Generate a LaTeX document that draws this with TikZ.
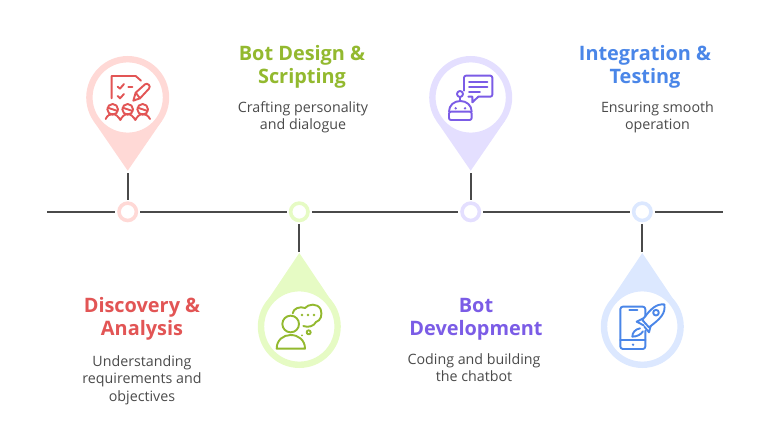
\documentclass[tikz,border=0pt]{standalone}
\usepackage{fontspec}
\setmainfont{Open Sans}
\definecolor{redT}{HTML}{E25555}\definecolor{redP}{HTML}{FFD9D6}
\definecolor{grnT}{HTML}{93B92F}\definecolor{grnP}{HTML}{E6FBC4}
\definecolor{purT}{HTML}{7B5CE6}\definecolor{purP}{HTML}{E4DFFF}
\definecolor{bluT}{HTML}{4A86E8}\definecolor{bluP}{HTML}{DCE8FF}
\definecolor{ink}{HTML}{4A4A4A}
\tikzset{
 ring/.style={circle,draw=#1,fill=white,line width=3.6pt,minimum size=17.4pt,inner sep=0pt,outer sep=0pt},
 pinbody/.style={circle,draw=#1,fill=white,line width=6.4pt,minimum size=76.6pt,inner sep=0pt,outer sep=0pt},
 link/.style={draw=ink,line width=1.9pt},
 title/.style={text=#1,font=\fontsize{19.9}{23}\selectfont\bfseries,align=center},
 desc/.style={text=ink,font=\fontsize{14.25}{17.3}\selectfont,align=center},
 iconz/.style={x=0.33333pt,y=-0.33333pt,line width=1.9pt,line cap=round,line join=round},
}
\begin{document}
\begin{tikzpicture}[x=1pt,y=-1pt]
\useasboundingbox (0,0) rectangle (768,444);
% pin tips and tapered sides
\coordinate (t1) at (127.7,170.7);
\coordinate (t2) at (299.3,253);
\coordinate (t3) at (470.7,170.7);
\coordinate (t4) at (642.3,253);
\fill[redP] (t1) -- (93.7,121.2) -- (161.7,121.2) -- cycle;
\fill[grnP] (t2) -- (265.3,303.7) -- (333.3,303.7) -- cycle;
\fill[purP] (t3) -- (436.7,121.2) -- (504.7,121.2) -- cycle;
\fill[bluP] (t4) -- (608.3,303.7) -- (676.3,303.7) -- cycle;
\node[pinbody=redP] (p1) at (127.7,97.5) {};
\node[pinbody=grnP] (p2) at (299.3,326.5) {};
\node[pinbody=purP] (p3) at (470.7,97.5) {};
\node[pinbody=bluP] (p4) at (642.3,326.5) {};
% timeline
\node[ring=redP] (c1) at (127.7,211.8) {};
\node[ring=grnP] (c2) at (299.3,211.8) {};
\node[ring=purP] (c3) at (470.7,211.8) {};
\node[ring=bluP] (c4) at (642.3,211.8) {};
\coordinate (s) at (47,211.8);
\coordinate (e) at (723,211.8);
\draw[link,shorten >=12.5pt] (s) -- (c1.center);
\draw[link,shorten <=12.5pt,shorten >=12.5pt] (c1.center) -- (c2.center);
\draw[link,shorten <=12.5pt,shorten >=12.5pt] (c2.center) -- (c3.center);
\draw[link,shorten <=12.5pt,shorten >=12.5pt] (c3.center) -- (c4.center);
\draw[link,shorten <=12.5pt] (c4.center) -- (e);
\draw[link,shorten <=12pt,shorten >=2.5pt] (c1.center) -- (t1);
\draw[link,shorten <=12pt,shorten >=1.5pt] (c2.center) -- (t2);
\draw[link,shorten <=12pt,shorten >=2.5pt] (c3.center) -- (t3);
\draw[link,shorten <=12pt,shorten >=1.5pt] (c4.center) -- (t4);
% icon 1
\begin{scope}[shift={(70,40)},iconz,draw=redT]
\draw (125,175) -- (125,108) -- (197,108) -- (213,122);
\draw (143,140) -- (150,146) -- (162,132);
\draw (175,142) -- (187,142);
\draw (143,168) -- (150,175) -- (162,162);
\draw (190,182) -- (197,158) -- (225,133) .. controls (232,127) and (244,138) .. (237,146) -- (210,175) -- cycle;
\draw (197,158) -- (210,175);
\foreach \cx in {128,173,218}{
 \draw (\cx,208) circle[radius=16];
 \draw (\cx-15,203) -- (\cx+15,213);
}
\draw (107,237) .. controls (112,226) and (120,222) .. (128,222) .. controls (137,222) and (145,230) .. (151,240) .. controls (156,230) and (164,222) .. (173,222) .. controls (182,222) and (190,230) .. (196,240) .. controls (201,230) and (209,222) .. (218,222) .. controls (226,222) and (234,226) .. (240,237);
\end{scope}
% icon 2
\begin{scope}[shift={(240,200)},iconz,draw=grnT,fill=grnT]
\draw[fill=none] (152,372) circle[radius=25];
\draw[fill=none] (110,446) .. controls (110,420) and (130,405) .. (152,405) .. controls (175,405) and (195,420) .. (195,446) -- cycle;
\draw[fill=none] (158,340) .. controls (160,325) and (180,318) .. (195,324) .. controls (205,312) and (232,308) .. (242,328) .. controls (248,345) and (242,362) .. (228,366) .. controls (222,378) and (205,384) .. (190,378);
\fill (186,345) circle[radius=4.2];
\fill (204,345) circle[radius=4.2];
\fill (222,345) circle[radius=4.2];
\draw[fill=none] (206,397) circle[radius=6];
\fill (186,406) circle[radius=3];
\end{scope}
% icon 3
\begin{scope}[shift={(415,40)},iconz,draw=purT,fill=purT]
\draw[fill=none,rounded corners=2pt] (147,152) -- (147,107) -- (232,107) -- (232,170) -- (190,170);
\draw[fill=none] (190,170) -- (172,187) -- (172,170) -- (160,170);
\draw (162,125) -- (217,125);
\draw (162,140) -- (217,140);
\draw (162,155) -- (195,155);
\draw[fill=none] (135,162) circle[radius=9];
\draw (135,171) -- (135,183);
\draw[fill=none] (102,215) .. controls (102,196) and (117,183) .. (136,183) .. controls (155,183) and (170,196) .. (170,215);
\draw[fill=none,rounded corners=2pt] (102,215) rectangle (170,240);
\fill (122,205) circle[radius=4];
\fill (150,205) circle[radius=4];
\end{scope}
% icon 4
\begin{scope}[shift={(585,200)},iconz,draw=bluT,fill=bluT]
\draw[fill=none,rounded corners=2.5pt] (181,350) -- (181,320) -- (106,320) -- (106,447) -- (181,447) -- (181,392);
\draw (133,330) -- (157,330);
\draw (106,420) -- (181,420);
\fill (144,434) circle[radius=4];
\draw[fill=none] (238,313) .. controls (215,312) and (200,322) .. (172,360) -- (192,382) .. controls (228,355) and (242,340) .. (238,313) -- cycle;
\draw[fill=none] (213,338) circle[radius=8.5];
\draw[fill=none] (175,355) -- (155,365) -- (176,376);
\draw[fill=none] (197,378) -- (192,397) -- (178,380);
\draw[fill=none] (165,385) .. controls (150,388) and (142,398) .. (142,410) .. controls (155,410) and (168,404) .. (174,394);
\end{scope}
% text
\node[title=redT] (h1) at (142,318.5) {Discovery \&\\Analysis};
\node[desc] (d1) at (142,380) {Understanding\\requirements and\\objectives};
\node[title=grnT] (h2) at (302,66.8) {Bot Design \&\\Scripting};
\node[desc] (d2) at (303,117.2) {Crafting personality\\and dialogue};
\node[title=purT] (h3) at (476,318.8) {Bot\\Development};
\node[desc] (d3) at (474,367.7) {Coding and building\\the chatbot};
\node[title=bluT] (h4) at (645,66.8) {Integration \&\\Testing};
\node[desc] (d4) at (657.5,117.2) {Ensuring smooth\\operation};
\end{tikzpicture}
\end{document}
